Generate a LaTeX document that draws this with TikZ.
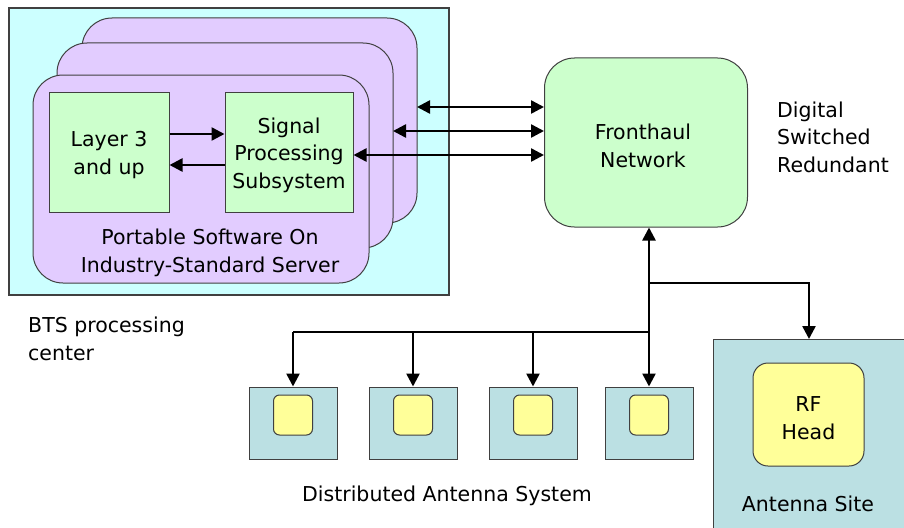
\documentclass[tikz,border=0pt]{standalone}
\usepackage{fontspec}
\setmainfont{DejaVu Sans}
\usetikzlibrary{arrows.meta}
\definecolor{bgcyan}{HTML}{CCFFFF}
\definecolor{card}{HTML}{E2CCFF}
\definecolor{lgreen}{HTML}{CCFFCC}
\definecolor{dasblue}{HTML}{BBE0E3}
\definecolor{lyellow}{HTML}{FFFF99}
\definecolor{edge}{HTML}{404040}
\begin{document}
\begin{tikzpicture}[x=1pt,y=-1pt,
  lbl/.style={font=\fontsize{20.5}{27.5}\selectfont, align=center, inner sep=0pt},
  box/.style={draw=edge, line width=1pt},
  conn/.style={line width=2.5pt, -{Triangle[length=13pt,width=13pt]}},
  bconn/.style={line width=2.5pt, {Triangle[length=13pt,width=13pt]}-{Triangle[length=13pt,width=13pt]}},
  plain/.style={line width=2.5pt}]
\useasboundingbox (0,0) rectangle (904,527);
% BTS processing center
\path[box, fill=bgcyan, line width=1.3pt] (9,8) rectangle (449,295);
\path[box, fill=card, rounded corners=30pt] (82,18) rectangle (417,223);
\path[box, fill=card, rounded corners=30pt] (57,43) rectangle (393,248);
\path[box, fill=card, rounded corners=30pt] (33,75) rectangle (369,283);
\coordinate (backR) at (417,107);
\coordinate (midR) at (393,131);
\node[box, fill=lgreen, minimum width=120pt, minimum height=120pt, inner sep=0pt] (layer) at (109,152) {};
\node[lbl] at (109,155) {Layer 3\\and up};
\node[box, fill=lgreen, minimum width=128pt, minimum height=120pt, inner sep=0pt] (sps) at (289,152) {};
\node[lbl] at (289,155) {Signal\\Processing\\Subsystem};
\node[lbl] (port) at (210,253) {Portable Software On\\Industry-Standard Server};
\draw[conn] (layer.east |- 0,134) -- (sps.west |- 0,134);
\draw[conn] (sps.west |- 0,165) -- (layer.east |- 0,165);
\node[lbl, align=left, anchor=west] (bts) at (28,339) {BTS processing\\center};
% Fronthaul
\node[box, fill=lgreen, rounded corners=30pt, minimum width=203pt, minimum height=169pt, inner sep=0pt] (fh) at (646,142.5) {};
\node[lbl] at (643,146) {Fronthaul\\Network};
\node[lbl, align=left, anchor=west] (dsr) at (777,137) {Digital\\Switched\\Redundant};
\draw[bconn] (backR) -- (fh.west |- backR);
\draw[bconn] (midR) -- (fh.west |- midR);
\draw[bconn] (sps.east |- 0,155) -- (fh.west |- 0,155);
% DAS
\foreach \i/\x in {1/293,2/413,3/533,4/649}{
  \node[box, fill=dasblue, minimum width=88pt, minimum height=72pt, inner sep=0pt] (das\i) at (\x,423) {};
  \node[box, fill=lyellow, rounded corners=6pt, minimum width=39pt, minimum height=40pt, inner sep=0pt] (ant\i) at (\x,415) {};
}
\node[lbl] (dastxt) at (447,496) {Distributed Antenna System};
% Antenna site
\path[box, fill=dasblue] (713,339) rectangle (915,540);
\coordinate (site) at (809,339);
\node[box, fill=lyellow, rounded corners=15pt, minimum width=111pt, minimum height=103pt, inner sep=0pt] (rf) at (808.5,414.5) {};
\node[lbl] at (808.5,418) {RF\\Head};
\node[lbl] (sitetxt) at (808,504) {Antenna Site};
% connectors
\coordinate (bus) at (649,332);
\coordinate (br) at (649,283);
\draw[conn] (bus) -- (fh.south -| bus);
\draw[conn] (bus) -- (das4.north);
\draw[plain] (bus) -- (das1.north |- bus);
\draw[conn] (das1.north |- bus) -- (das1.north);
\draw[conn] (das2.north |- bus) -- (das2.north);
\draw[conn] (das3.north |- bus) -- (das3.north);
\draw[conn] (br) -- (site |- br) -- (site);
\end{tikzpicture}
\end{document}
